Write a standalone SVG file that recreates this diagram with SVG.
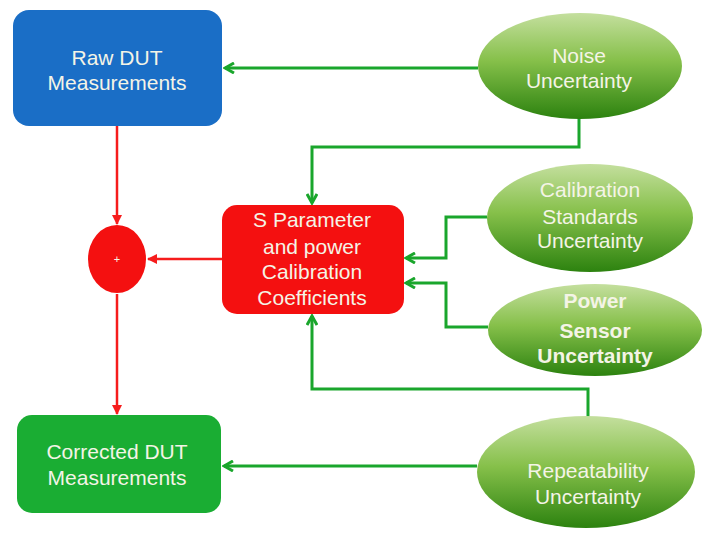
<svg xmlns="http://www.w3.org/2000/svg" width="707" height="545" viewBox="0 0 707 545">
<defs>
<style>
.t{font-family:"Liberation Sans",Arial,sans-serif;font-size:21px;text-anchor:middle;fill:#f4f4e6}
.b{font-weight:bold}
.g{fill:none;stroke:#1aa62c;stroke-width:3}
.r{fill:none;stroke:#f61c1c;stroke-width:2.5}
</style>
<linearGradient id="eg" x1="0" y1="0" x2="0" y2="1">
<stop offset="0" stop-color="#c4df9e"/>
<stop offset="0.45" stop-color="#86c04a"/>
<stop offset="1" stop-color="#2c820f"/>
</linearGradient>
<marker id="ga" viewBox="0 0 12 12" refX="10" refY="6" markerWidth="12" markerHeight="12" markerUnits="userSpaceOnUse" orient="auto">
<path d="M1,1 L10,6 L1,11" fill="none" stroke="#1aa62c" stroke-width="3"/>
</marker>
<marker id="ra" viewBox="0 0 10 10" refX="9" refY="5" markerWidth="10" markerHeight="10" markerUnits="userSpaceOnUse" orient="auto">
<path d="M0,0 L10,5 L0,10 Z" fill="#f61c1c"/>
</marker>
</defs>
<rect width="707" height="545" fill="#ffffff"/>
<g id="connectors">
<path class="g" d="M478,68 H225" marker-end="url(#ga)"/>
<path class="g" d="M579,118 V147 H312 V203" marker-end="url(#ga)"/>
<path class="g" d="M487,217 H446 V258 H406" marker-end="url(#ga)"/>
<path class="g" d="M488,327 H446 V283 H406" marker-end="url(#ga)"/>
<path class="g" d="M588,417 V389 H312 V316" marker-end="url(#ga)"/>
<path class="g" d="M477,466 H224" marker-end="url(#ga)"/>
<path class="r" d="M117,126 V224" marker-end="url(#ra)"/>
<path class="r" d="M222,259 H148" marker-end="url(#ra)"/>
<path class="r" d="M117,294 V414" marker-end="url(#ra)"/>
</g>
<g id="raw">
<rect x="13" y="10" width="209" height="116" rx="16" fill="#1a6ec6"/>
<text class="t" x="117" y="65">Raw DUT</text>
<text class="t" x="117" y="90">Measurements</text>
</g>
<g id="noise">
<ellipse cx="580" cy="66" rx="102" ry="53" fill="url(#eg)"/>
<text class="t" x="579" y="63">Noise</text>
<text class="t" x="579" y="88">Uncertainty</text>
</g>
<g id="sparam">
<rect x="222" y="205" width="182" height="109" rx="15" fill="#f41010"/>
<text class="t" x="312" y="227">S Parameter</text>
<text class="t" x="312" y="254">and power</text>
<text class="t" x="312" y="279">Calibration</text>
<text class="t" x="312" y="305">Coefficients</text>
</g>
<g id="sum">
<ellipse cx="117" cy="259" rx="29" ry="34" fill="#f41010"/>
<text class="t" x="117" y="263" style="font-size:11px">+</text>
</g>
<g id="calstd">
<ellipse cx="590" cy="218" rx="103" ry="54" fill="url(#eg)"/>
<text class="t" x="590" y="197">Calibration</text>
<text class="t" x="590" y="224">Standards</text>
<text class="t" x="590" y="248">Uncertainty</text>
</g>
<g id="power">
<ellipse cx="595" cy="330" rx="107" ry="46" fill="url(#eg)"/>
<text class="t b" x="595" y="308">Power</text>
<text class="t b" x="595" y="338">Sensor</text>
<text class="t b" x="595" y="363">Uncertainty</text>
</g>
<g id="repeat">
<ellipse cx="586" cy="472" rx="109" ry="56" fill="url(#eg)"/>
<text class="t" x="588" y="478">Repeatability</text>
<text class="t" x="588" y="504">Uncertainty</text>
</g>
<g id="corrected">
<rect x="17" y="415" width="204" height="98" rx="15" fill="#1aad33"/>
<text class="t" x="117" y="459">Corrected DUT</text>
<text class="t" x="117" y="485">Measurements</text>
</g>
</svg>
